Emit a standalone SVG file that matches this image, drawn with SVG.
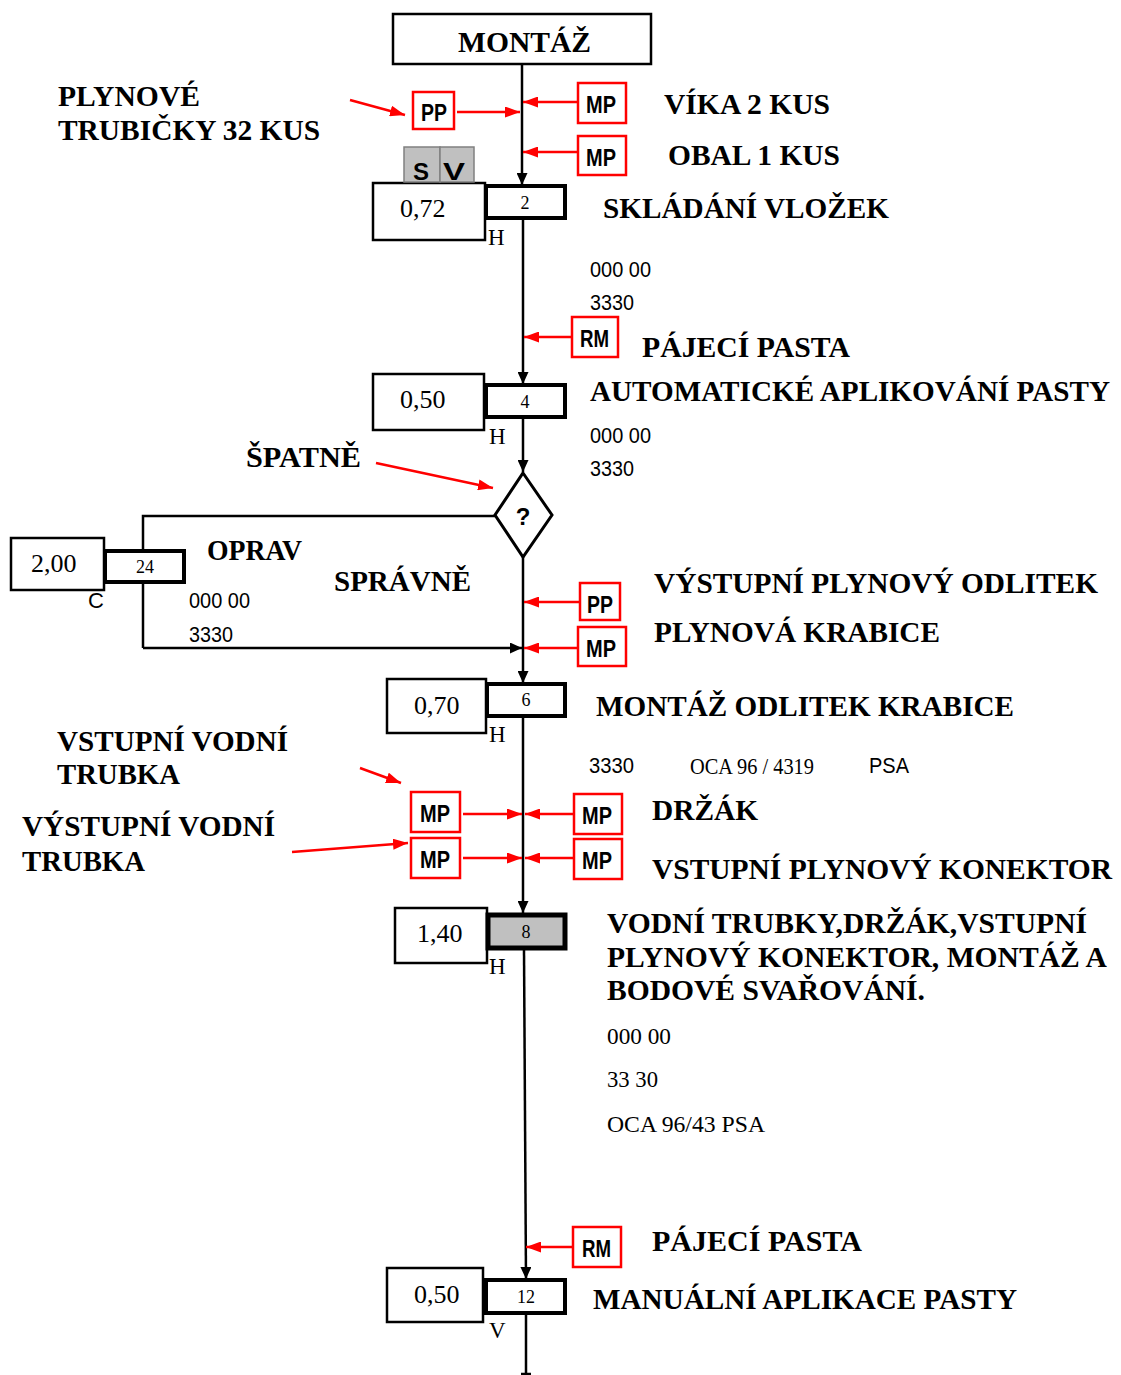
<svg xmlns="http://www.w3.org/2000/svg" width="1121" height="1375" viewBox="0 0 1121 1375">
<defs>
<marker id="ab" markerUnits="userSpaceOnUse" markerWidth="12" markerHeight="11" refX="12" refY="5.5" orient="auto"><path d="M0,0 L12,5.5 L0,11 z" fill="#000"/></marker>
<marker id="ar" markerUnits="userSpaceOnUse" markerWidth="15" markerHeight="11" refX="15" refY="5.5" orient="auto"><path d="M0,0 L15,5.5 L0,11 z" fill="#f00"/></marker>
<style>
.lbl{font-family:"Liberation Serif","Times New Roman",serif;font-weight:bold;font-size:30px;fill:#000}
.val{font-family:"Liberation Serif","Times New Roman",serif;font-size:26px;fill:#000}
.num{font-family:"Liberation Serif","Times New Roman",serif;font-size:18px;fill:#000}
.hv{font-family:"Liberation Serif","Times New Roman",serif;font-size:23px;fill:#000}
.tr{font-family:"Liberation Serif","Times New Roman",serif;font-size:23px;fill:#000}
.ar{font-family:"Liberation Sans",Arial,sans-serif;font-size:22px;fill:#000}
.tag{font-family:"Liberation Sans",Arial,sans-serif;font-weight:bold;font-size:24px;fill:#000}
.rb{fill:#fff;stroke:#f00;stroke-width:2.5}
.vb{fill:#fff;stroke:#000;stroke-width:2.5}
.nb{fill:#fff;stroke:#000;stroke-width:4}
.bl{stroke:#000;stroke-width:2.5;fill:none}
.rl{stroke:#f00;stroke-width:2.5;fill:none}
</style>
</defs>

<g id="connectors">
<line class="bl" x1="522" y1="64" x2="522" y2="185" marker-end="url(#ab)"/>
<line class="bl" x1="523" y1="218" x2="523" y2="384" marker-end="url(#ab)"/>
<line class="bl" x1="523" y1="418" x2="523" y2="472" marker-end="url(#ab)"/>
<line class="bl" x1="523" y1="557" x2="523" y2="683" marker-end="url(#ab)"/>
<line class="bl" x1="523" y1="716" x2="523" y2="913" marker-end="url(#ab)"/>
<line class="bl" x1="524" y1="950" x2="526" y2="1279" marker-end="url(#ab)"/>
<line class="bl" x1="526" y1="1313" x2="526" y2="1374"/>
<line class="bl" x1="521" y1="1374" x2="531" y2="1374"/>
<polyline class="bl" points="495,516 143,516 143,550"/>
<line class="bl" x1="143" y1="583" x2="143" y2="648"/>
<line class="bl" x1="143" y1="648" x2="522" y2="648" marker-end="url(#ab)"/>

<line class="rl" x1="350" y1="100" x2="405" y2="115" marker-end="url(#ar)"/>
<line class="rl" x1="457" y1="112" x2="520" y2="112" marker-end="url(#ar)"/>
<line class="rl" x1="578" y1="102" x2="523" y2="102" marker-end="url(#ar)"/>
<line class="rl" x1="578" y1="152" x2="523" y2="152" marker-end="url(#ar)"/>
<line class="rl" x1="572" y1="337" x2="524" y2="337" marker-end="url(#ar)"/>
<line class="rl" x1="376" y1="463" x2="493" y2="488" marker-end="url(#ar)"/>
<line class="rl" x1="580" y1="602" x2="524" y2="602" marker-end="url(#ar)"/>
<line class="rl" x1="578" y1="648" x2="524" y2="648" marker-end="url(#ar)"/>
<line class="rl" x1="360" y1="768" x2="401" y2="783" marker-end="url(#ar)"/>
<line class="rl" x1="292" y1="852" x2="408" y2="843" marker-end="url(#ar)"/>
<line class="rl" x1="463" y1="814" x2="522" y2="814" marker-end="url(#ar)"/>
<line class="rl" x1="573" y1="814" x2="525" y2="814" marker-end="url(#ar)"/>
<line class="rl" x1="463" y1="858" x2="522" y2="858" marker-end="url(#ar)"/>
<line class="rl" x1="573" y1="858" x2="525" y2="858" marker-end="url(#ar)"/>
<line class="rl" x1="573" y1="1247" x2="526" y2="1247" marker-end="url(#ar)"/>
</g>

<g id="montaz">
<rect class="vb" x="393" y="14" width="258" height="50"/>
<text class="lbl" x="458" y="52" textLength="133" lengthAdjust="spacingAndGlyphs">MONTÁŽ</text>
</g>

<g id="pp1">
<rect class="rb" x="413" y="92" width="41" height="37"/>
<text class="tag" x="421" y="121" textLength="26" lengthAdjust="spacingAndGlyphs">PP</text>
</g>
<g id="mp1">
<rect class="rb" x="578" y="83" width="48" height="40"/>
<text class="tag" x="586" y="113" textLength="30" lengthAdjust="spacingAndGlyphs">MP</text>
</g>
<g id="mp2">
<rect class="rb" x="578" y="136" width="48" height="39"/>
<text class="tag" x="586" y="166" textLength="30" lengthAdjust="spacingAndGlyphs">MP</text>
</g>

<g id="op2">
<rect class="vb" x="373" y="183" width="112" height="57"/>
<text class="val" x="400" y="217">0,72</text>
<rect class="nb" x="486" y="186" width="79" height="32"/>
<text class="num" x="525" y="209" text-anchor="middle">2</text>
<text class="hv" x="488" y="245">H</text>
<text class="lbl" x="603" y="218" textLength="286" lengthAdjust="spacingAndGlyphs">SKLÁDÁNÍ VLOŽEK</text>
<text class="ar" x="590" y="277" textLength="61" lengthAdjust="spacingAndGlyphs">000 00</text>
<text class="ar" x="590" y="310" textLength="44" lengthAdjust="spacingAndGlyphs">3330</text>
</g>

<g id="sv">
<rect x="404" y="147" width="36" height="35" fill="#c0c0c0" stroke="#808080" stroke-width="1.5"/>
<rect x="440" y="147" width="34" height="35" fill="#c0c0c0" stroke="#808080" stroke-width="1.5"/>
<text class="tag" x="413" y="180" font-size="27">S</text>
<text class="tag" x="443" y="180" font-size="27" textLength="22" lengthAdjust="spacingAndGlyphs">V</text>
</g>

<g id="rm1">
<rect class="rb" x="572" y="317" width="46" height="40"/>
<text class="tag" x="580" y="347" textLength="29" lengthAdjust="spacingAndGlyphs">RM</text>
</g>

<g id="op4">
<rect class="vb" x="373" y="374" width="111" height="56"/>
<text class="val" x="400" y="408">0,50</text>
<rect class="nb" x="486" y="385" width="79" height="32"/>
<text class="num" x="525" y="408" text-anchor="middle">4</text>
<text class="hv" x="489" y="444">H</text>
<text class="lbl" x="590" y="401" font-size="28" textLength="520" lengthAdjust="spacingAndGlyphs">AUTOMATICKÉ APLIKOVÁNÍ PASTY</text>
<text class="ar" x="590" y="443" textLength="61" lengthAdjust="spacingAndGlyphs">000 00</text>
<text class="ar" x="590" y="476" textLength="44" lengthAdjust="spacingAndGlyphs">3330</text>
</g>

<g id="decision">
<polygon points="523,473 552,515 523,557 495,515" fill="#fff" stroke="#000" stroke-width="3"/>
<text class="tag" x="523" y="525" text-anchor="middle" font-size="24">?</text>
</g>

<g id="op24">
<rect class="vb" x="11" y="538" width="93" height="52"/>
<text class="val" x="31" y="572">2,00</text>
<rect class="nb" x="105" y="551" width="79" height="31"/>
<text class="num" x="145" y="573" text-anchor="middle">24</text>
<text class="ar" x="88" y="608" font-size="24">C</text>
<text class="ar" x="189" y="608" textLength="61" lengthAdjust="spacingAndGlyphs">000 00</text>
<text class="ar" x="189" y="642" textLength="44" lengthAdjust="spacingAndGlyphs">3330</text>
</g>

<g id="pp2">
<rect class="rb" x="580" y="583" width="40" height="37"/>
<text class="tag" x="587" y="613" textLength="26" lengthAdjust="spacingAndGlyphs">PP</text>
</g>
<g id="mp3">
<rect class="rb" x="578" y="627" width="48" height="39"/>
<text class="tag" x="586" y="657" textLength="30" lengthAdjust="spacingAndGlyphs">MP</text>
</g>

<g id="op6">
<rect class="vb" x="387" y="679" width="99" height="54"/>
<text class="val" x="414" y="714">0,70</text>
<rect class="nb" x="487" y="684" width="78" height="32"/>
<text class="num" x="526" y="706" text-anchor="middle">6</text>
<text class="hv" x="489" y="742">H</text>
<text class="lbl" x="596" y="716" textLength="418" lengthAdjust="spacingAndGlyphs">MONTÁŽ ODLITEK KRABICE</text>
<text class="ar" x="589" y="773" textLength="45" lengthAdjust="spacingAndGlyphs">3330</text>
<text class="tr" x="690" y="774" font-size="22" textLength="124" lengthAdjust="spacingAndGlyphs">OCA 96 / 4319</text>
<text class="ar" x="869" y="773" textLength="40" lengthAdjust="spacingAndGlyphs">PSA</text>
</g>

<g id="mp4">
<rect class="rb" x="411" y="792" width="49" height="40"/>
<text class="tag" x="420" y="822" textLength="30" lengthAdjust="spacingAndGlyphs">MP</text>
</g>
<g id="mp5">
<rect class="rb" x="411" y="838" width="49" height="40"/>
<text class="tag" x="420" y="868" textLength="30" lengthAdjust="spacingAndGlyphs">MP</text>
</g>
<g id="mp6">
<rect class="rb" x="574" y="794" width="48" height="40"/>
<text class="tag" x="582" y="824" textLength="30" lengthAdjust="spacingAndGlyphs">MP</text>
</g>
<g id="mp7">
<rect class="rb" x="574" y="839" width="48" height="40"/>
<text class="tag" x="582" y="869" textLength="30" lengthAdjust="spacingAndGlyphs">MP</text>
</g>

<g id="op8">
<rect class="vb" x="395" y="908" width="92" height="55"/>
<text class="val" x="417" y="942">1,40</text>
<rect x="488" y="915" width="77" height="33" fill="#c0c0c0" stroke="#000" stroke-width="5"/>
<text class="num" x="526" y="938" text-anchor="middle">8</text>
<text class="hv" x="489" y="974">H</text>
<text class="lbl" x="607" y="933" textLength="480" lengthAdjust="spacingAndGlyphs">VODNÍ TRUBKY,DRŽÁK,VSTUPNÍ</text>
<text class="lbl" x="607" y="967" textLength="500" lengthAdjust="spacingAndGlyphs">PLYNOVÝ KONEKTOR, MONTÁŽ A</text>
<text class="lbl" x="607" y="1000" textLength="318" lengthAdjust="spacingAndGlyphs">BODOVÉ SVAŘOVÁNÍ.</text>
<text class="tr" x="607" y="1044" textLength="64" lengthAdjust="spacingAndGlyphs">000 00</text>
<text class="tr" x="607" y="1087" textLength="51" lengthAdjust="spacingAndGlyphs">33 30</text>
<text class="tr" x="607" y="1132" textLength="158" lengthAdjust="spacingAndGlyphs">OCA 96/43 PSA</text>
</g>

<g id="rm2">
<rect class="rb" x="573" y="1227" width="48" height="40"/>
<text class="tag" x="582" y="1257" textLength="29" lengthAdjust="spacingAndGlyphs">RM</text>
</g>

<g id="op12">
<rect class="vb" x="387" y="1268" width="96" height="54"/>
<text class="val" x="414" y="1303">0,50</text>
<rect class="nb" x="486" y="1280" width="79" height="33"/>
<text class="num" x="526" y="1303" text-anchor="middle">12</text>
<text class="hv" x="489" y="1338">V</text>
<text class="lbl" x="593" y="1309" textLength="424" lengthAdjust="spacingAndGlyphs">MANUÁLNÍ APLIKACE PASTY</text>
</g>

<g id="labels">
<text class="lbl" x="58" y="106" textLength="142" lengthAdjust="spacingAndGlyphs">PLYNOVÉ</text>
<text class="lbl" x="58" y="140" textLength="262" lengthAdjust="spacingAndGlyphs">TRUBIČKY 32 KUS</text>
<text class="lbl" x="664" y="114" textLength="166" lengthAdjust="spacingAndGlyphs">VÍKA 2 KUS</text>
<text class="lbl" x="668" y="165" textLength="172" lengthAdjust="spacingAndGlyphs">OBAL 1 KUS</text>
<text class="lbl" x="642" y="357" textLength="208" lengthAdjust="spacingAndGlyphs">PÁJECÍ PASTA</text>
<text class="lbl" x="246" y="467" textLength="115" lengthAdjust="spacingAndGlyphs">ŠPATNĚ</text>
<text class="lbl" x="207" y="560" font-size="28" textLength="95" lengthAdjust="spacingAndGlyphs">OPRAV</text>
<text class="lbl" x="334" y="591" font-size="28" textLength="137" lengthAdjust="spacingAndGlyphs">SPRÁVNĚ</text>
<text class="lbl" x="654" y="593" textLength="444" lengthAdjust="spacingAndGlyphs">VÝSTUPNÍ PLYNOVÝ ODLITEK</text>
<text class="lbl" x="654" y="642" textLength="286" lengthAdjust="spacingAndGlyphs">PLYNOVÁ KRABICE</text>
<text class="lbl" x="57" y="751" textLength="231" lengthAdjust="spacingAndGlyphs">VSTUPNÍ VODNÍ</text>
<text class="lbl" x="57" y="784" textLength="123" lengthAdjust="spacingAndGlyphs">TRUBKA</text>
<text class="lbl" x="22" y="836" textLength="253" lengthAdjust="spacingAndGlyphs">VÝSTUPNÍ VODNÍ</text>
<text class="lbl" x="22" y="871" textLength="123" lengthAdjust="spacingAndGlyphs">TRUBKA</text>
<text class="lbl" x="652" y="820" textLength="106" lengthAdjust="spacingAndGlyphs">DRŽÁK</text>
<text class="lbl" x="652" y="879" textLength="460" lengthAdjust="spacingAndGlyphs">VSTUPNÍ PLYNOVÝ KONEKTOR</text>
<text class="lbl" x="652" y="1251" textLength="210" lengthAdjust="spacingAndGlyphs">PÁJECÍ PASTA</text>
</g>
</svg>
